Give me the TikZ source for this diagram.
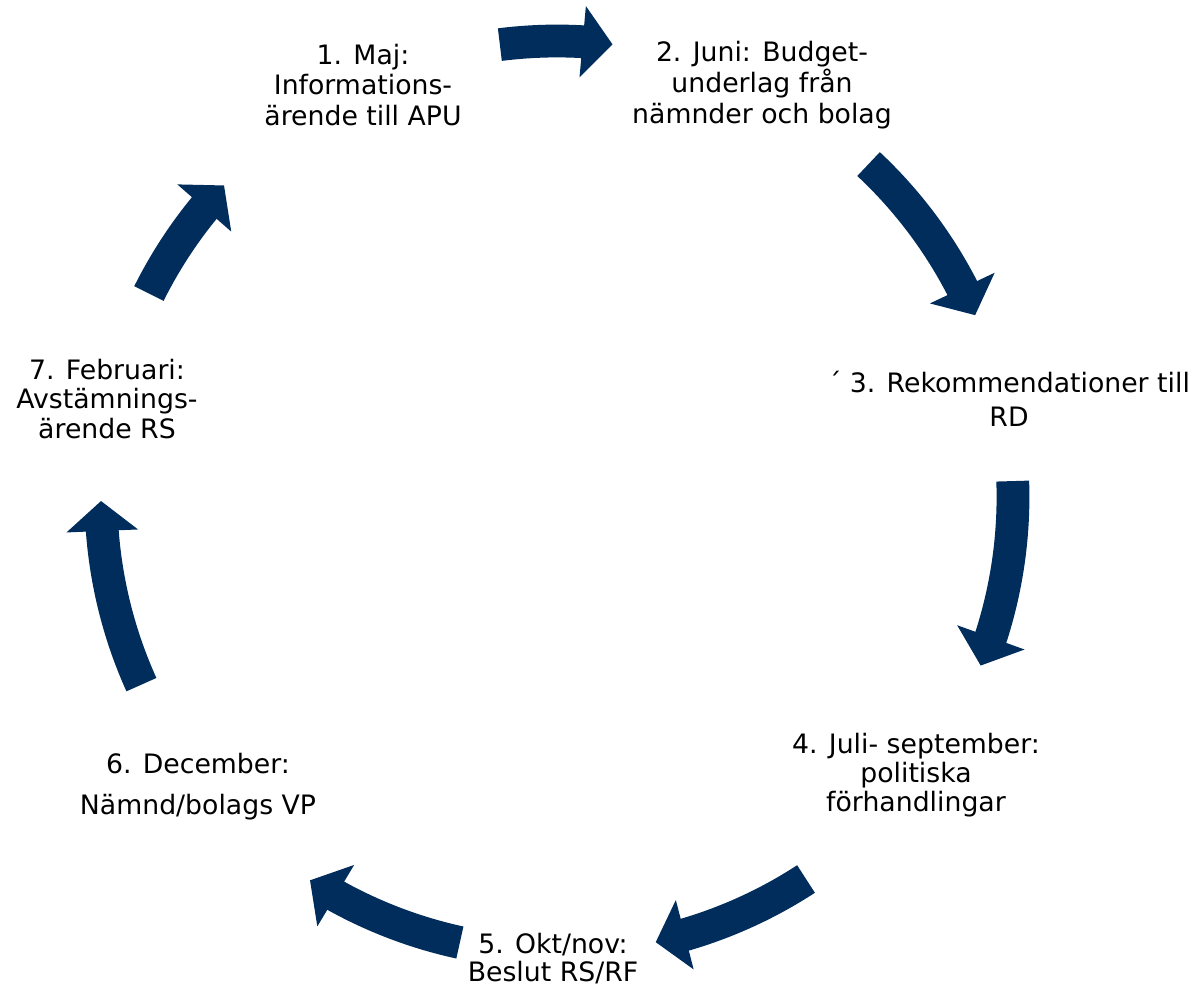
\documentclass[tikz,border=0pt]{standalone}
\usepackage{fontspec}
\setmainfont{DejaVu Sans}
\usepackage{tikz}
\usetikzlibrary{arrows.meta}
\usetikzlibrary{bending}

\definecolor{navy}{RGB}{0,45,92}

\begin{document}
\begin{tikzpicture}[
  cyclearrow/.style={draw=navy, line width=0.82cm, -{Triangle[width=1.75cm,length=0.75cm]}},
  steptext/.style={align=center, font=\fontsize{19}{22}\selectfont, inner sep=0pt}
]
\useasboundingbox (-13.925,-12.225) rectangle (15.925,12.425);

\def\r{11.4}
\coordinate (c) at (0,0);

% labels
\node[steptext] (maj) at (-4.85,10.3) {1. Maj:\\Informations-\\ärende till APU};
\node[steptext] (juni) at (5.125,10.3) {2. Juni: Budget-\\underlag från\\nämnder och bolag};
\node[steptext, font=\fontsize{19}{24}\selectfont] (rek) at (11.3,2.45) {´ 3. Rekommendationer till\\RD};
\node[steptext, font=\fontsize{19}{20.5}\selectfont] (juli) at (8.975,-6.95) {4. Juli- september:\\politiska\\förhandlingar};
\node[steptext, font=\fontsize{19}{20}\selectfont] (okt) at (-0.1,-11.55) {5. Okt/nov:\\Beslut RS/RF};
\node[steptext, font=\fontsize{19}{29}\selectfont] (dec) at (-8.975,-7.25) {6. December:\\Nämnd/bolags VP};
\node[steptext, font=\fontsize{19}{21}\selectfont] (feb) at (-11.25,2.45) {7. Februari:\\Avstämnings-\\ärende RS};

% arrows round the cycle
\draw[cyclearrow] (97.2:\r) arc[start angle=97.2, end angle=83.0, radius=\r];
\draw[cyclearrow] (46.9:\r) arc[start angle=46.9, end angle=23.5, radius=\r];
\draw[cyclearrow] (2.0:\r) arc[start angle=2.0, end angle=-21.7, radius=\r];
\draw[cyclearrow] (-56.9:\r) arc[start angle=-56.9, end angle=-77.5, radius=\r];
\draw[cyclearrow] (-102.3:\r) arc[start angle=-102.3, end angle=-122.8, radius=\r];
\draw[cyclearrow] (204.3:\r) arc[start angle=204.3, end angle=180.5, radius=\r];
\draw[cyclearrow] (153.5:\r) arc[start angle=153.5, end angle=136.9, radius=\r];
\end{tikzpicture}
\end{document}
